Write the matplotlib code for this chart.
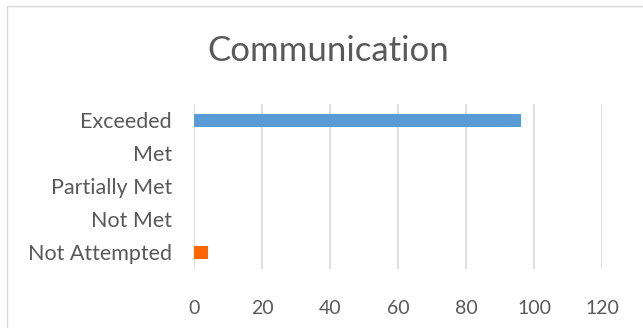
import matplotlib.pyplot as plt
from matplotlib.patches import Rectangle

categories = ["Exceeded", "Met", "Partially Met", "Not Met", "Not Attempted"]
values = [96, 0, 0, 0, 4]
bar_colors = ["#5B9BD5", "#5B9BD5", "#5B9BD5", "#5B9BD5", "#FF6600"]
xticks = [0, 20, 40, 60, 80, 100, 120]

plt.rcParams['font.family'] = ['Lato', 'DejaVu Sans']

fig = plt.figure(figsize=(6.43, 3.28), dpi=100)
ax = fig.add_axes([0.302, 0.180, 0.635, 0.503])

pos = list(range(len(categories)))[::-1]
ax.barh(pos, values, height=0.42, color=bar_colors, zorder=3)

ax.set_xlim(0, 120)
ax.set_ylim(-0.5, len(categories) - 0.5)
ax.set_xticks(xticks)
ax.set_yticks(pos)
ax.set_yticklabels(categories)
ax.grid(axis='x', color='#D9D9D9', linewidth=1.2, zorder=0)
ax.tick_params(axis='both', length=0, colors='#595959')
ax.tick_params(axis='y', pad=16, labelsize=15.5)
ax.tick_params(axis='x', pad=22, labelsize=14)
for s in ax.spines.values():
    s.set_visible(False)

fig.text(0.51, 0.845, "Communication", ha='center', va='center',
         fontsize=25, color='#595959')

# chart border (cut off at right and bottom like the reference)
fig.patches.append(Rectangle((7 / 643, -0.1), 1.0, 1.0 - 6 / 328 + 0.1,
                             transform=fig.transFigure, fill=False,
                             edgecolor='#D9D9D9', linewidth=1))

fig.savefig("out.png", dpi=100)
